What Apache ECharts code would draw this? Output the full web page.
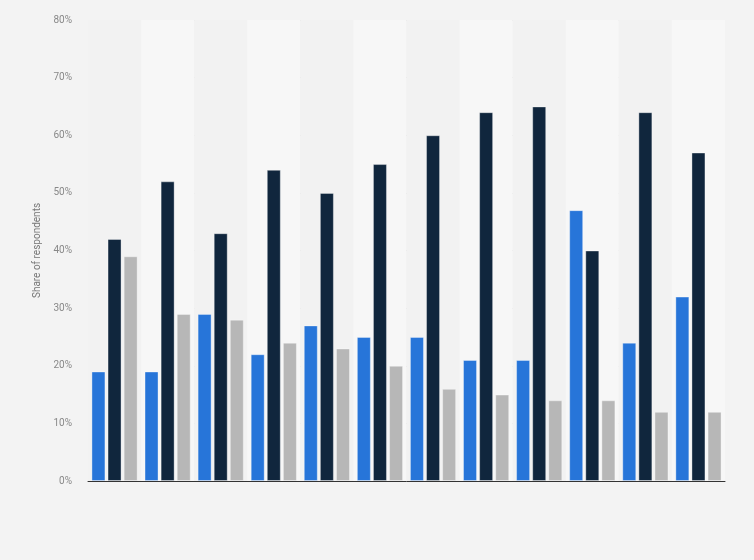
<!DOCTYPE html>
<html>
<head>
<meta charset="utf-8">
<script src="https://cdn.jsdelivr.net/npm/echarts@6/dist/echarts.min.js"></script>
<style>
    html, body { margin: 0; padding: 0; background: #f3f3f3; }
    #chartbox { width: 754px; height: 560px; }
</style>
</head>
<body>
<div id="chartbox"></div>
<script>
// data
var categories = ["1", "2", "3", "4", "5", "6", "7", "8", "9", "10", "11", "12"];
var seriesA = [19, 19, 29, 22, 27, 25, 25, 21, 21, 47, 24, 32];
var seriesB = [42, 52, 43, 54, 50, 55, 60, 64, 65, 40, 64, 57];
var seriesC = [39, 29, 28, 24, 23, 20, 16, 15, 14, 14, 12, 12];
var yTicks = [0, 10, 20, 30, 40, 50, 60, 70, 80];

var myChart = echarts.init(document.getElementById("chartbox"));
var barStyle = function (color) {
    return {
        color: color,
        borderColor: "rgba(255,255,255,0.35)",
        borderWidth: 1
    };
};
var option = {
    backgroundColor: "#f3f3f3",
    animation: false,
    grid: {
        left: 88,
        right: 29,
        top: 20,
        bottom: 79
    },
    xAxis: {
        type: "category",
        data: categories,
        axisLine: { show: true, lineStyle: { color: "#333333", width: 1 } },
        axisTick: { show: false },
        axisLabel: { show: false },
        splitArea: {
            show: true,
            areaStyle: { color: ["#f2f2f2", "#f7f7f7"] }
        }
    },
    yAxis: {
        type: "value",
        min: yTicks[0],
        max: yTicks[yTicks.length - 1],
        interval: 10,
        name: "Share of respondents",
        nameLocation: "middle",
        nameGap: 41,
        nameTextStyle: { color: "#777777", fontSize: 10, fontFamily: "Roboto" },
        axisLine: { show: false },
        axisTick: { show: false },
        axisLabel: {
            color: "#888888",
            fontSize: 10,
            fontFamily: "Roboto",
            margin: 16,
            formatter: "{value}%"
        },
        splitLine: {
            show: true,
            lineStyle: { color: "#d5d5d5", type: "dotted", width: 1 }
        }
    },
    series: [
        {
            type: "bar",
            data: seriesA,
            itemStyle: barStyle("#2775d9"),
            barWidth: 14,
            barGap: "15%",
            barCategoryGap: "13%"
        },
        {
            type: "bar",
            data: seriesB,
            itemStyle: barStyle("#10263d"),
            barWidth: 14
        },
        {
            type: "bar",
            data: seriesC,
            itemStyle: barStyle("#b7b7b7"),
            barWidth: 14
        }
    ]
};
myChart.setOption(option);
</script>
</body>
</html>
